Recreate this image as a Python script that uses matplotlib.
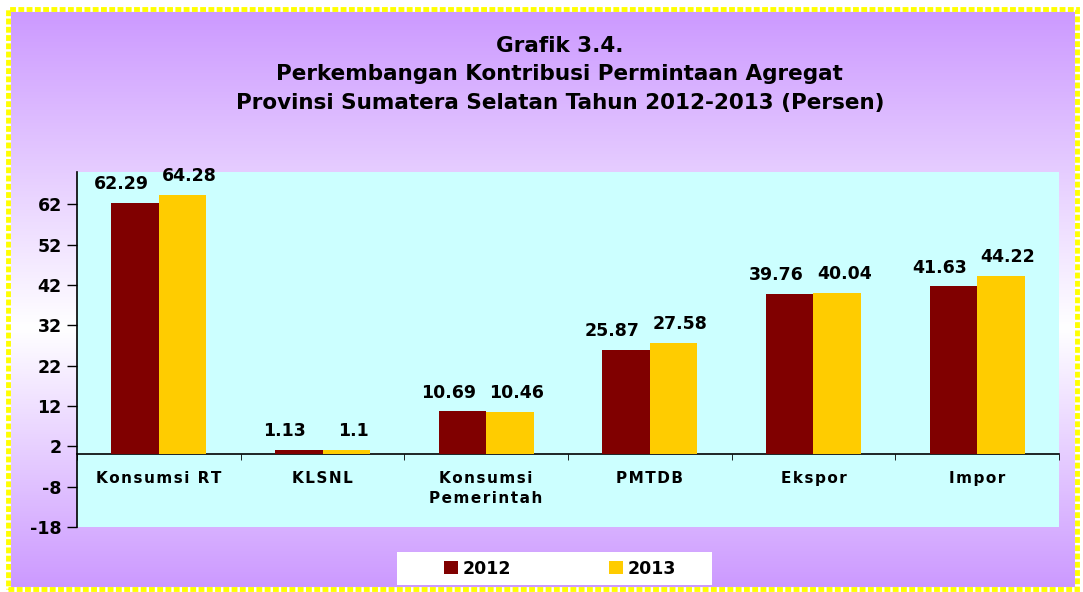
import numpy as np
import matplotlib.pyplot as plt
from matplotlib.patches import Rectangle
from matplotlib.colors import LinearSegmentedColormap

plt.rcParams['axes.unicode_minus'] = False

# data
categories = ['Konsumsi RT', 'KLSNL', 'Konsumsi\nPemerintah', 'PMTDB', 'Ekspor', 'Impor']
v2012 = [62.29, 1.13, 10.69, 25.87, 39.76, 41.63]
v2013 = [64.28, 1.1, 10.46, 27.58, 40.04, 44.22]
years = ['2012', '2013']
yticks = [-18, -8, 2, 12, 22, 32, 42, 52, 62]

c2012 = '#800000'
c2013 = '#FFCC00'


def spaced(s):
    # wide letter spacing like the original labels
    return '\n'.join('\u200a'.join(line) for line in s.split('\n'))


fig = plt.figure(figsize=(10.83, 5.92), dpi=100)
fig.patch.set_facecolor('white')

# gradient background inside the border
W, H = 1083, 592
bg = fig.add_axes([10 / W, 4 / H, 1065 / W, 578 / H], zorder=-10)
cmap = LinearSegmentedColormap.from_list(
    'bg', [(0, '#CC99FF'), (0.55, '#FFFFFF'), (1, '#CC99FF')])
bg.imshow(np.linspace(0, 1, 256)[:, None], aspect='auto', cmap=cmap,
          extent=[0, 1, 0, 1])
bg.axis('off')

# dotted yellow border
fig.patches.append(Rectangle((8 / W, 3 / H), 1069 / W, 580 / H, transform=fig.transFigure,
                             fill=False, edgecolor='white', lw=3.5))
fig.patches.append(Rectangle((8 / W, 3 / H), 1069 / W, 580 / H, transform=fig.transFigure,
                             fill=False, edgecolor='#FFFF00', lw=3.5, linestyle=(0, (1.2, 0.5))))

ax = fig.add_axes([77 / W, 65 / H, 982 / W, 355 / H])
ax.set_facecolor('#CCFFFF')

x = np.arange(len(categories))
w = 0.29
b1 = ax.bar(x - w / 2, v2012, w, color=c2012, label=years[0], zorder=3)
b2 = ax.bar(x + w / 2, v2013, w, color=c2013, label=years[1], zorder=3)

for xi, v in zip(x, v2012):
    ax.annotate(f'{v:g}', (xi - w / 2, v), xytext=(-10, 7), textcoords='offset points',
                ha='center', va='bottom', fontsize=12.5, fontweight='bold')
for xi, v in zip(x, v2013):
    ax.annotate(f'{v:g}', (xi + w / 2, v), xytext=(5, 7), textcoords='offset points',
                ha='center', va='bottom', fontsize=12.5, fontweight='bold')

ax.set_xlim(-0.5, len(categories) - 0.5)
ax.set_ylim(-18, 70)
ax.set_yticks(yticks)
ax.tick_params(axis='y', direction='out', length=7, width=1, pad=4, labelsize=12.5)
for lab in ax.get_yticklabels():
    lab.set_fontweight('bold')

ax.spines['top'].set_visible(False)
ax.spines['right'].set_visible(False)
ax.spines['bottom'].set_position(('data', 0))
ax.spines['bottom'].set_linewidth(1.2)
ax.spines['left'].set_linewidth(1.2)

ax.set_xticks(x)
ax.set_xticklabels([spaced(c) for c in categories], fontsize=11, fontweight='bold',
                   linespacing=1.45)
ax.set_xticks(np.arange(-0.5, len(categories)), minor=True)
ax.tick_params(axis='x', which='major', length=0, pad=12)
ax.tick_params(axis='x', which='minor', length=4, direction='out')

fig.text(0.517, 0.94, 'Grafik 3.4.\nPerkembangan Kontribusi Permintaan Agregat\n'
         'Provinsi Sumatera Selatan Tahun 2012-2013 (Persen)',
         ha='center', va='top', fontsize=15.5, fontweight='bold', linespacing=1.55)

# legend box
fig.patches.append(Rectangle((397 / W, 7 / H), 315 / W, 33 / H, transform=fig.transFigure,
                             facecolor='white', edgecolor='none'))
fig.legend(handles=[b1, b2], loc='center', bbox_to_anchor=(560 / W, 23.5 / H), ncol=2,
           frameon=False, prop={'weight': 'bold', 'size': 12.5},
           handlelength=0.8, handleheight=0.8, handletextpad=0.3, columnspacing=5.6)

fig.savefig('out.png', dpi=100)
